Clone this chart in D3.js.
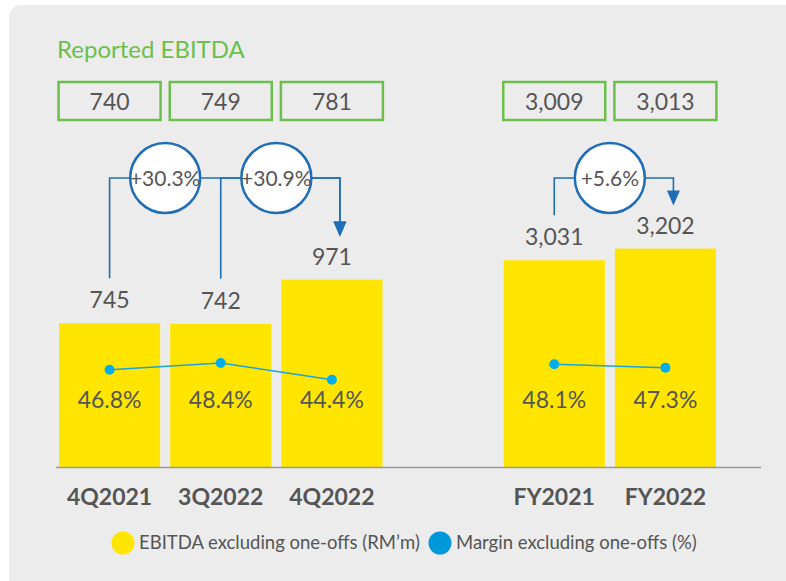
<!DOCTYPE html>
<html>
<head>
<meta charset="utf-8">
<script src="https://cdn.jsdelivr.net/npm/d3@7"></script>
<style>
  html, body { margin: 0; padding: 0; background: #ffffff; }
  svg { display: block; font-family: Lato, "Open Sans", sans-serif; }
</style>
</head>
<body>
<div id="chart"></div>
<script>
// data
let quarters = ["4Q2021", "3Q2022", "4Q2022"]
let years = ["FY2021", "FY2022"]
let ebitdaQ = [745, 742, 971]
let ebitdaY = [3031, 3202]
let marginQ = [46.8, 48.4, 44.4]
let marginY = [48.1, 47.3]
let reportedQ = ["740", "749", "781"]
let reportedY = ["3,009", "3,013"]
let growth = [
    {from: "4Q2021", next: "3Q2022", to: "4Q2022", label: "+30.3%"},
    {from: "3Q2022", next: "4Q2022", to: "4Q2022", label: "+30.9%"},
    {from: "FY2021", next: "FY2022", to: "FY2022", label: "+5.6%"}
]

let rows = quarters.map((c, i) => ({cat: c, v: ebitdaQ[i], m: marginQ[i], rep: reportedQ[i], grp: "q"}))
    .concat(years.map((c, i) => ({cat: c, v: ebitdaY[i], m: marginY[i], rep: reportedY[i], grp: "y"})))

let W = 786, H = 581
let baseY = 467
let textCol = "#555555"
let green = "#6cbf4c"
let dark = "#1f6db5"

var svg = d3.select("#chart")
    .append("svg")
        .attr("width", W)
        .attr("height", H)

// panel
svg.append("rect")
    .attr("x", 9).attr("y", 5)
    .attr("width", W - 9 + 12).attr("height", H - 5 + 12)
    .attr("rx", 12)
    .attr("fill", "#ececec")

// spacer slot between quarters and years
let xScale = d3.scaleBand()
    .domain(quarters.concat([" "], years))
    .range([59, 716])
    .paddingInner(10 / 111)
    .paddingOuter(0)

let yQ = d3.scaleLinear().domain([0, 1000]).range([baseY, baseY - 193])
let yA = d3.scaleLinear().domain([0, 3500]).range([baseY, baseY - 3500 * 0.0682])
let yScale = d => d.grp == "q" ? yQ(d.v) : yA(d.v)
let mScale = d3.scaleLinear().domain([44, 49]).range([381.5, 360.5])
let cx = c => xScale(c) + xScale.bandwidth() / 2

svg.append("text")
    .attr("x", 57).attr("y", 58)
    .attr("fill", green)
    .style("font-size", "24px")
    .text("Reported EBITDA")

// reported boxes
let boxes = svg.append("g").selectAll("g").data(rows).join("g")
boxes.append("rect")
    .attr("x", d => cx(d.cat) - 51)
    .attr("y", 82)
    .attr("width", 102)
    .attr("height", 38)
    .attr("fill", "none")
    .attr("stroke", green)
    .attr("stroke-width", 2.5)
boxes.append("text")
    .attr("x", d => cx(d.cat))
    .attr("y", 110)
    .attr("text-anchor", "middle")
    .attr("fill", textCol)
    .style("font-size", "23px")
    .text(d => d.rep)

// bars
svg.append("g").selectAll("rect").data(rows).join("rect")
    .attr("x", d => xScale(d.cat))
    .attr("y", d => yScale(d))
    .attr("width", xScale.bandwidth())
    .attr("height", d => baseY - yScale(d))
    .attr("fill", "#ffe500")

// value labels
svg.append("g").selectAll("text").data(rows).join("text")
    .attr("x", d => cx(d.cat))
    .attr("y", d => yScale(d) - 15)
    .attr("text-anchor", "middle")
    .attr("fill", textCol)
    .style("font-size", "23px")
    .text(d => d3.format(",")(d.v))

// growth connectors
let rowOf = c => rows.find(r => r.cat == c)
let lineY = 178
let conn = svg.append("g")
growth.forEach(g => {
    let x0 = cx(g.from), x1 = cx(g.to) + 8
    let y0 = yScale(rowOf(g.from)) - 15 - 18 - 12
    let y1 = yScale(rowOf(g.to)) - 15 - 18 - 10
    conn.append("path")
        .attr("d", `M${x0},${y0}V${lineY}H${x1}V${y1 - 14}`)
        .attr("fill", "none")
        .attr("stroke", dark)
        .attr("stroke-width", 1.6)
    conn.append("path")
        .attr("d", `M${x1 - 6.5},${y1 - 15}L${x1 + 6.5},${y1 - 15}L${x1},${y1}Z`)
        .attr("fill", dark)
})
growth.forEach(g => {
    let c = (cx(g.from) + cx(g.next)) / 2
    conn.append("circle")
        .attr("cx", c).attr("cy", lineY)
        .attr("r", 35)
        .attr("fill", "#ffffff")
        .attr("stroke", dark)
        .attr("stroke-width", 2.5)
    conn.append("text")
        .attr("x", c).attr("y", lineY + 7.5)
        .attr("text-anchor", "middle")
        .attr("fill", textCol)
        .style("font-size", "21px")
        .text(g.label)
})

// margin lines + dots
let line = d3.line().x(d => cx(d.cat)).y(d => mScale(d.m))
;["q", "y"].forEach(grp => {
    let part = rows.filter(r => r.grp == grp)
    svg.append("path")
        .datum(part)
        .attr("d", line)
        .attr("fill", "none")
        .attr("stroke", "#1aa3dd")
        .attr("stroke-width", 1.5)
})
svg.append("g").selectAll("circle").data(rows).join("circle")
    .attr("cx", d => cx(d.cat))
    .attr("cy", d => mScale(d.m))
    .attr("r", 5)
    .attr("fill", "#00aeef")

// margin labels
svg.append("g").selectAll("text").data(rows).join("text")
    .attr("x", d => cx(d.cat))
    .attr("y", 408)
    .attr("text-anchor", "middle")
    .attr("fill", textCol)
    .style("font-size", "23px")
    .text(d => d.m.toFixed(1) + "%")

// axis
svg.append("line")
    .attr("x1", 56).attr("x2", 761)
    .attr("y1", baseY + 0.5).attr("y2", baseY + 0.5)
    .attr("stroke", "#999999")
    .attr("stroke-width", 1.5)

svg.append("g").selectAll("text").data(rows).join("text")
    .attr("x", d => cx(d.cat))
    .attr("y", 505)
    .attr("text-anchor", "middle")
    .attr("fill", textCol)
    .style("font-size", "23px")
    .style("font-weight", "bold")
    .text(d => d.cat)

// legend
let legend = [
    {label: "EBITDA excluding one-offs (RM\u2019m)", color: "#ffe600", x: 123},
    {label: "Margin excluding one-offs (%)", color: "#0098da", x: 440}
]
let lg = svg.append("g").selectAll("g").data(legend).join("g")
lg.append("circle")
    .attr("cx", d => d.x).attr("cy", 543)
    .attr("r", 11.5)
    .attr("fill", d => d.color)
lg.append("text")
    .attr("x", d => d.x + 16).attr("y", 549)
    .attr("fill", textCol)
    .style("font-size", "18.5px")
    .text(d => d.label)
</script>
</body>
</html>
